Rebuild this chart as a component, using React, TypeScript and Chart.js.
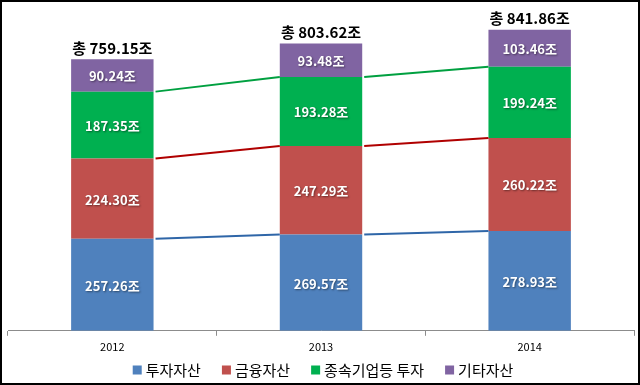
import React, { useEffect, useRef } from "react";
import { Chart, registerables } from "chart.js";

Chart.register(...registerables);

const categories = ["2012", "2013", "2014"];
const seriesNames = ["투자자산", "금융자산", "종속기업등 투자", "기타자산"];
const investAssets = [257.26, 269.57, 278.93];
const financialAssets = [224.3, 247.29, 260.22];
const subsidiaryInvest = [187.35, 193.28, 199.24];
const otherAssets = [90.24, 93.48, 103.46];
const totals = [759.15, 803.62, 841.86];
const seriesColors = ["#4F81BD", "#C0504D", "#00B050", "#8064A2"];
const lineColors = ["#2F66A8", "#B00000", "#00A040"];

const FONT = "'Noto Sans CJK KR', 'Noto Sans', sans-serif";

const overlayPlugin = {
  id: "overlay",
  afterDatasetsDraw(chart: any) {
    const ctx = chart.ctx;
    ctx.save();
    for (let d = 0; d < 3; d++) {
      const meta = chart.getDatasetMeta(d);
      ctx.strokeStyle = lineColors[d];
      ctx.lineWidth = 2;
      for (let i = 0; i < meta.data.length - 1; i++) {
        const a = meta.data[i];
        const b = meta.data[i + 1];
        ctx.beginPath();
        ctx.moveTo(a.x + a.width / 2 + 2, a.y);
        ctx.lineTo(b.x - b.width / 2, b.y);
        ctx.stroke();
      }
    }
    ctx.font = `bold 13px ${FONT}`;
    ctx.textAlign = "center";
    ctx.textBaseline = "middle";
    chart.data.datasets.forEach((ds: any, d: number) => {
      const meta = chart.getDatasetMeta(d);
      meta.data.forEach((el: any, i: number) => {
        const v = ds.data[i];
        const cy = (el.y + el.base) / 2;
        ctx.shadowColor = "rgba(0,0,0,0.45)";
        ctx.shadowBlur = 2;
        ctx.shadowOffsetX = 1;
        ctx.shadowOffsetY = 1;
        ctx.fillStyle = "#ffffff";
        ctx.fillText(v.toFixed(2) + "조", el.x, cy + 1);
      });
    });
    ctx.shadowColor = "transparent";
    const top = chart.getDatasetMeta(3);
    ctx.font = `bold 15px ${FONT}`;
    ctx.fillStyle = "#000000";
    ctx.textBaseline = "bottom";
    top.data.forEach((el: any, i: number) => {
      ctx.fillText("총 " + totals[i].toFixed(2) + "조", el.x, el.y - 4);
    });
    ctx.restore();
  },
  afterDraw(chart: any) {
    const ctx = chart.ctx;
    ctx.save();
    ctx.font = `15px ${FONT}`;
    ctx.textBaseline = "middle";
    ctx.textAlign = "left";
    const box = 9;
    const gapBoxText = 4;
    const gapItems = 21;
    const items = chart.data.datasets.map((ds: any) => ({
      label: ds.label,
      color: ds.backgroundColor,
      w: box + gapBoxText + ctx.measureText(ds.label).width,
    }));
    const total =
      items.reduce((s: number, it: any) => s + it.w, 0) + gapItems * (items.length - 1);
    let x = chart.width / 2 - total / 2 + 3;
    const y = chart.height - 13;
    items.forEach((it: any) => {
      ctx.fillStyle = it.color;
      ctx.fillRect(x, y - box / 2, box, box);
      ctx.fillStyle = "#000";
      ctx.fillText(it.label, x + box + gapBoxText, y);
      x += it.w + gapItems;
    });
    ctx.restore();
  },
};

export default function App() {
  const ref = useRef<HTMLCanvasElement>(null);
  useEffect(() => {
    document.body.style.margin = "0";
    const data = [investAssets, financialAssets, subsidiaryInvest, otherAssets];
    const chart = new Chart(ref.current!, {
      type: "bar",
      data: {
        labels: categories,
        datasets: data.map((arr, i) => ({
          label: seriesNames[i],
          data: arr,
          backgroundColor: seriesColors[i],
          borderWidth: 0,
          barPercentage: 0.79,
          categoryPercentage: 0.5,
        })),
      },
      options: {
        responsive: false,
        animation: false,
        layout: { padding: { top: 7, left: 6, right: 4, bottom: 26 } },
        scales: {
          x: {
            stacked: true,
            offset: true,
            grid: {
              offset: true,
              drawOnChartArea: false,
              drawTicks: true,
              tickLength: 5,
              color: "#8c8c8c",
            },
            border: { display: true, color: "#8c8c8c", width: 1 },
            ticks: { color: "#000", font: { family: FONT, size: 11 }, padding: 4 },
          },
          y: {
            stacked: true,
            display: false,
            min: 0,
            max: 900,
          },
        },
        plugins: {
          legend: { display: false },
          tooltip: { enabled: false },
        },
      },
      plugins: [overlayPlugin],
    });
    return () => chart.destroy();
  }, []);
  return (
    <div
      style={{
        width: 640,
        height: 385,
        border: "2px solid #000",
        boxSizing: "border-box",
        background: "#fff",
      }}
    >
      <canvas ref={ref} width={636} height={381} style={{ display: "block" }} />
    </div>
  );
}
